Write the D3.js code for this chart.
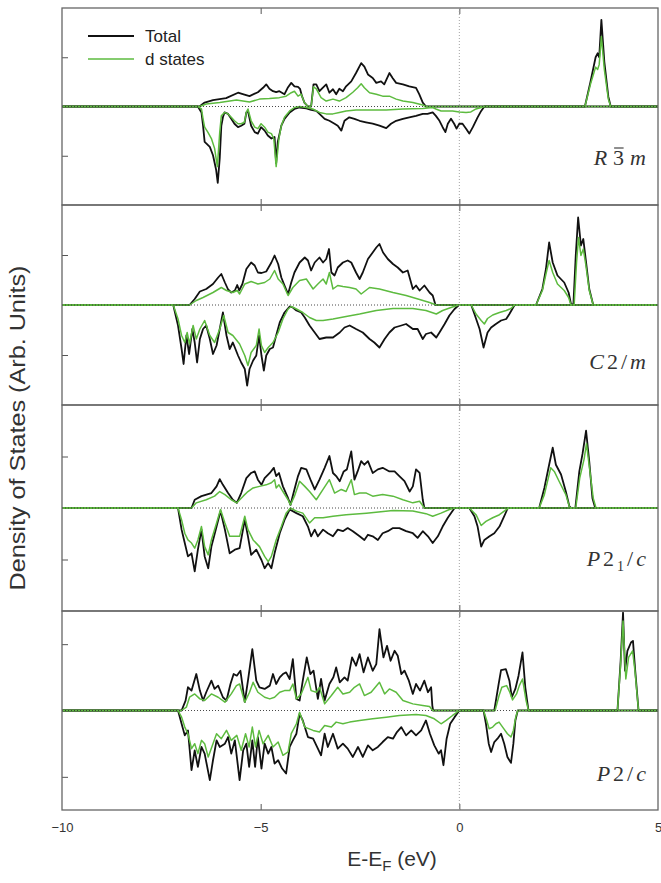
<!DOCTYPE html>
<html><head><meta charset="utf-8">
<script src="https://cdn.jsdelivr.net/npm/d3@7"></script>
<style>body{margin:0;background:#fff}</style>
</head><body><svg id="c" width="661" height="883"></svg>
<script>
// ---- data (energy eV, DOS arb. units) ----
const xDomain=[-10,5];
const xTickVals=[-10,-5,0,5];
const seriesNames=["Total","d states"];
const panelLabels=[
 [["R","i"],["3","o"],["m","i"]],
 [["C","i"],["2","n"],["/","n"],["m","i"]],
 [["P","i"],["2","n"],["1","s"],["/","n"],["c","i"]],
 [["P","i"],["2","n"],["/","n"],["c","i"]]];
const yMax=[2,2,2,3];
const yTickVals=[[-1,1],[-1,1],[-1,1],[-2,2]];

const p1TotUp=[[-6.54,0],[-6.41,0.08],[-6.20,0.13],[-5.87,0.17],[-5.57,0.28],[-5.45,0.25],[-5.28,0.21],[-5.07,0.29],[-4.94,0.38],[-4.86,0.45],[-4.78,0.36],[-4.69,0.31],[-4.61,0.29],[-4.53,0.31],[-4.40,0.25],[-4.32,0.38],[-4.23,0.48],[-4.15,0.41],[-4.06,0.40],[-4.01,0.36],[-3.96,0.21],[-3.90,0.08],[-3.81,0],[-3.73,0],[-3.67,0.45],[-3.60,0.45],[-3.52,0.31],[-3.44,0.38],[-3.35,0.45],[-3.27,0.28],[-3.18,0.35],[-3.10,0.25],[-3.02,0.36],[-2.93,0.31],[-2.85,0.41],[-2.72,0.51],[-2.60,0.68],[-2.47,0.88],[-2.39,0.81],[-2.30,0.65],[-2.18,0.58],[-2.09,0.48],[-1.97,0.51],[-1.89,0.45],[-1.76,0.68],[-1.68,0.58],[-1.59,0.48],[-1.42,0.45],[-1.26,0.41],[-1.09,0.38],[-1.01,0.25],[-0.92,0.08],[-0.84,0],[3.16,0],[3.3,0.5],[3.43,1.0],[3.48,1.08],[3.52,1.0],[3.575,1.76],[3.65,0.9],[3.75,0.2],[3.81,0]];
const p1DUp=[[-6.54,0],[-6.37,0.05],[-6.03,0.08],[-5.61,0.13],[-5.28,0.09],[-5.03,0.15],[-4.78,0.16],[-4.53,0.18],[-4.36,0.21],[-4.23,0.28],[-4.15,0.31],[-4.06,0.21],[-3.98,0.25],[-3.90,0.08],[-3.81,0],[-3.73,0],[-3.67,0.40],[-3.60,0.36],[-3.48,0.18],[-3.35,0.11],[-3.18,0.15],[-3.02,0.11],[-2.85,0.18],[-2.68,0.29],[-2.56,0.38],[-2.47,0.46],[-2.39,0.38],[-2.26,0.28],[-2.09,0.25],[-1.93,0.21],[-1.76,0.21],[-1.59,0.15],[-1.42,0.11],[-1.17,0.08],[-0.92,0.03],[-0.84,0],[3.16,0],[3.3,0.45],[3.43,0.8],[3.48,0.75],[3.52,0.85],[3.575,1.42],[3.65,0.75],[3.75,0.15],[3.81,0]];
const p1TotDn=[[-6.58,0],[-6.49,-0.12],[-6.45,-0.39],[-6.41,-0.72],[-6.37,-0.75],[-6.28,-0.82],[-6.20,-0.99],[-6.12,-1.29],[-6.08,-1.55],[-6.03,-1.05],[-5.99,-0.39],[-5.95,-0.22],[-5.91,-0.12],[-5.82,-0.15],[-5.74,-0.25],[-5.66,-0.35],[-5.57,-0.42],[-5.49,-0.39],[-5.41,-0.35],[-5.36,-0.12],[-5.32,-0.09],[-5.24,-0.39],[-5.15,-0.52],[-5.07,-0.55],[-4.99,-0.42],[-4.90,-0.49],[-4.82,-0.59],[-4.73,-0.65],[-4.65,-0.62],[-4.61,-1.15],[-4.57,-0.72],[-4.48,-0.39],[-4.40,-0.25],[-4.27,-0.12],[-4.15,-0.05],[-4.02,-0.02],[-3.85,-0.04],[-3.73,-0.07],[-3.60,-0.09],[-3.52,-0.15],[-3.39,-0.25],[-3.27,-0.29],[-3.14,-0.35],[-3.06,-0.39],[-2.97,-0.49],[-2.89,-0.29],[-2.77,-0.22],[-2.64,-0.25],[-2.51,-0.29],[-2.35,-0.32],[-2.18,-0.35],[-2.01,-0.39],[-1.84,-0.44],[-1.72,-0.35],[-1.59,-0.29],[-1.42,-0.25],[-1.26,-0.22],[-1.09,-0.19],[-0.92,-0.15],[-0.80,-0.15],[-0.67,-0.12],[-0.59,-0.19],[-0.50,-0.29],[-0.42,-0.42],[-0.35,-0.52],[-0.29,-0.35],[-0.21,-0.25],[-0.13,-0.35],[-0.07,-0.45],[0.00,-0.35],[0.08,-0.35],[0.17,-0.45],[0.25,-0.55],[0.34,-0.42],[0.46,-0.22],[0.55,-0.09],[0.63,0]];
const p1DDn=[[-6.58,0],[-6.49,-0.05],[-6.45,-0.25],[-6.41,-0.42],[-6.33,-0.52],[-6.24,-0.65],[-6.16,-0.85],[-6.09,-1.22],[-6.03,-0.52],[-5.99,-0.19],[-5.91,-0.12],[-5.82,-0.15],[-5.74,-0.22],[-5.66,-0.29],[-5.57,-0.35],[-5.49,-0.35],[-5.41,-0.32],[-5.36,-0.12],[-5.32,-0.05],[-5.24,-0.29],[-5.15,-0.42],[-5.07,-0.45],[-4.99,-0.35],[-4.90,-0.42],[-4.82,-0.52],[-4.73,-0.55],[-4.67,-0.65],[-4.61,-1.22],[-4.54,-0.65],[-4.48,-0.39],[-4.40,-0.22],[-4.27,-0.09],[-4.15,-0.02],[-4.02,0],[-3.85,-0.02],[-3.69,-0.05],[-3.52,-0.12],[-3.35,-0.15],[-3.18,-0.15],[-3.02,-0.12],[-2.85,-0.09],[-2.60,-0.07],[-1.84,-0.07],[-1.42,-0.05],[-0.92,-0.04],[-0.67,-0.02],[-0.59,-0.05],[-0.46,-0.09],[-0.17,-0.09],[0.00,-0.11],[0.17,-0.12],[0.29,-0.11],[0.42,-0.05],[0.55,-0.02],[0.63,0]];

const p2TotUp=[[-6.79,0],[-6.66,0.12],[-6.53,0.27],[-6.37,0.32],[-6.20,0.42],[-6.07,0.55],[-5.99,0.62],[-5.90,0.45],[-5.82,0.31],[-5.74,0.25],[-5.65,0.29],[-5.59,0.40],[-5.54,0.29],[-5.46,0.42],[-5.36,0.72],[-5.24,0.85],[-5.15,0.79],[-5.07,0.65],[-4.98,0.64],[-4.86,0.67],[-4.73,0.85],[-4.65,0.99],[-4.56,0.82],[-4.48,0.55],[-4.40,0.39],[-4.31,0.22],[-4.23,0.45],[-4.15,0.65],[-4.02,0.85],[-3.89,0.95],[-3.81,0.89],[-3.73,0.69],[-3.64,0.85],[-3.52,0.95],[-3.43,0.85],[-3.35,0.92],[-3.28,1.12],[-3.22,0.65],[-3.14,0.59],[-3.06,0.75],[-2.93,0.85],[-2.81,0.89],[-2.72,0.85],[-2.60,0.65],[-2.51,0.52],[-2.43,0.65],[-2.30,0.92],[-2.18,1.05],[-2.09,1.15],[-2.01,1.22],[-1.92,1.05],[-1.80,0.92],[-1.67,0.82],[-1.55,0.75],[-1.42,0.65],[-1.30,0.69],[-1.17,0.32],[-1.09,0.39],[-1.00,0.29],[-0.88,0.39],[-0.75,0.25],[-0.67,0.19],[-0.60,0],[1.93,0],[2.09,0.32],[2.18,0.72],[2.26,1.25],[2.35,0.85],[2.47,0.59],[2.64,0.45],[2.75,0.25],[2.81,0.02],[2.87,0],[2.93,0.99],[2.99,1.75],[3.06,1.19],[3.12,1.32],[3.18,0.92],[3.27,0.32],[3.37,0]];
const p2DUp=[[-6.79,0],[-6.62,0.09],[-6.45,0.15],[-6.20,0.25],[-5.99,0.35],[-5.86,0.29],[-5.70,0.25],[-5.59,0.29],[-5.53,0.22],[-5.40,0.42],[-5.24,0.47],[-5.07,0.42],[-4.90,0.45],[-4.77,0.52],[-4.65,0.69],[-4.56,0.52],[-4.44,0.42],[-4.31,0.19],[-4.19,0.35],[-4.02,0.49],[-3.85,0.52],[-3.68,0.32],[-3.56,0.42],[-3.43,0.52],[-3.35,0.42],[-3.27,0.65],[-3.18,0.32],[-3.06,0.39],[-2.93,0.37],[-2.76,0.35],[-2.60,0.32],[-2.47,0.22],[-2.26,0.35],[-2.01,0.32],[-1.67,0.25],[-1.34,0.19],[-1.00,0.11],[-0.75,0.05],[-0.58,0],[1.93,0],[2.09,0.29],[2.18,0.62],[2.26,0.89],[2.35,0.65],[2.47,0.42],[2.64,0.29],[2.75,0.15],[2.81,0],[2.89,0],[2.95,0.85],[3.00,1.35],[3.06,0.99],[3.12,1.12],[3.18,0.82],[3.27,0.29],[3.37,0]];
const p2TotDn=[[-7.20,0],[-7.08,-0.41],[-6.99,-0.88],[-6.94,-1.18],[-6.87,-0.61],[-6.80,-0.98],[-6.72,-0.48],[-6.66,-0.75],[-6.60,-1.15],[-6.53,-0.68],[-6.45,-0.48],[-6.37,-0.41],[-6.28,-0.68],[-6.20,-0.98],[-6.11,-0.81],[-6.03,-0.48],[-5.95,-0.15],[-5.86,-0.61],[-5.78,-0.88],[-5.70,-0.75],[-5.57,-1.01],[-5.49,-1.15],[-5.40,-1.28],[-5.34,-1.61],[-5.28,-1.28],[-5.19,-1.11],[-5.11,-1.01],[-5.04,-0.61],[-4.98,-1.01],[-4.92,-1.31],[-4.86,-1.01],[-4.77,-0.88],[-4.69,-0.85],[-4.61,-0.61],[-4.52,-0.35],[-4.40,-0.15],[-4.27,-0.03],[-4.19,-0.05],[-4.10,-0.11],[-3.98,-0.15],[-3.89,-0.25],[-3.77,-0.41],[-3.64,-0.55],[-3.52,-0.68],[-3.35,-0.65],[-3.18,-0.65],[-3.01,-0.55],[-2.89,-0.45],[-2.76,-0.41],[-2.60,-0.48],[-2.43,-0.55],[-2.26,-0.68],[-2.14,-0.75],[-2.01,-0.85],[-1.88,-0.68],[-1.76,-0.55],[-1.63,-0.45],[-1.46,-0.41],[-1.34,-0.38],[-1.17,-0.48],[-1.05,-0.48],[-0.92,-0.68],[-0.84,-0.58],[-0.71,-0.55],[-0.58,-0.65],[-0.50,-0.55],[-0.37,-0.38],[-0.25,-0.21],[-0.12,-0.08],[-0.01,0],[0.30,0],[0.38,-0.18],[0.51,-0.48],[0.61,-0.85],[0.71,-0.55],[0.80,-0.45],[0.92,-0.38],[1.05,-0.31],[1.18,-0.28],[1.26,-0.18],[1.39,0]];
const p2DDn=[[-7.20,0],[-7.08,-0.28],[-6.99,-0.61],[-6.91,-0.75],[-6.85,-0.55],[-6.79,-0.78],[-6.70,-0.41],[-6.62,-0.68],[-6.53,-0.48],[-6.41,-0.31],[-6.28,-0.61],[-6.16,-0.75],[-6.03,-0.48],[-5.93,-0.21],[-5.82,-0.55],[-5.70,-0.61],[-5.53,-0.78],[-5.40,-1.01],[-5.32,-1.21],[-5.24,-0.95],[-5.11,-0.81],[-5.04,-0.48],[-4.98,-0.81],[-4.90,-0.95],[-4.81,-0.85],[-4.69,-0.75],[-4.56,-0.55],[-4.44,-0.28],[-4.31,-0.08],[-4.23,-0.03],[-4.10,-0.08],[-3.94,-0.15],[-3.77,-0.25],[-3.60,-0.31],[-3.43,-0.31],[-3.18,-0.28],[-2.85,-0.23],[-2.51,-0.18],[-2.09,-0.11],[-1.67,-0.07],[-1.17,-0.07],[-0.84,-0.11],[-0.58,-0.18],[-0.42,-0.11],[-0.21,-0.05],[-0.01,0],[0.30,0],[0.42,-0.18],[0.55,-0.31],[0.63,-0.38],[0.71,-0.27],[0.84,-0.20],[1.01,-0.15],[1.18,-0.11],[1.30,-0.07],[1.39,0]];

const p3TotUp=[[-6.74,0],[-6.66,0.16],[-6.49,0.23],[-6.24,0.29],[-6.11,0.42],[-6.03,0.56],[-5.95,0.45],[-5.82,0.29],[-5.70,0.16],[-5.60,0.10],[-5.49,0.29],[-5.36,0.58],[-5.24,0.68],[-5.15,0.71],[-5.07,0.55],[-4.98,0.45],[-4.90,0.58],[-4.77,0.68],[-4.67,0.78],[-4.61,0.62],[-4.54,0.68],[-4.44,0.42],[-4.31,0.19],[-4.25,0.06],[-4.15,0.36],[-4.06,0.62],[-3.98,0.78],[-3.85,0.75],[-3.73,0.52],[-3.64,0.36],[-3.52,0.55],[-3.39,0.78],[-3.27,1.01],[-3.18,0.68],[-3.10,0.62],[-3.01,0.52],[-2.91,0.71],[-2.83,0.75],[-2.72,1.10],[-2.64,0.55],[-2.56,0.71],[-2.47,0.91],[-2.39,0.84],[-2.30,0.91],[-2.18,0.68],[-2.05,0.75],[-1.93,0.78],[-1.76,0.71],[-1.63,0.71],[-1.51,0.62],[-1.38,0.52],[-1.25,0.32],[-1.17,0.42],[-1.09,0.75],[-1.00,0.68],[-0.92,0.16],[-0.88,0],[2.01,0],[2.14,0.39],[2.26,0.84],[2.35,1.17],[2.43,0.84],[2.56,0.65],[2.68,0.32],[2.77,0.03],[2.81,0],[2.92,0],[3.02,0.71],[3.10,1.05],[3.19,1.50],[3.27,0.90],[3.35,0.19],[3.42,0]];
const p3DUp=[[-6.74,0],[-6.62,0.10],[-6.37,0.16],[-6.16,0.23],[-6.03,0.32],[-5.90,0.26],[-5.74,0.16],[-5.60,0.10],[-5.44,0.23],[-5.32,0.32],[-5.19,0.39],[-5.03,0.42],[-4.86,0.45],[-4.73,0.49],[-4.65,0.55],[-4.61,0.39],[-4.54,0.45],[-4.44,0.32],[-4.31,0.16],[-4.25,0.06],[-4.15,0.23],[-4.02,0.52],[-3.89,0.42],[-3.77,0.32],[-3.60,0.16],[-3.43,0.36],[-3.27,0.55],[-3.14,0.29],[-2.97,0.36],[-2.85,0.32],[-2.72,0.55],[-2.64,0.26],[-2.51,0.29],[-2.34,0.29],[-2.18,0.23],[-1.93,0.26],[-1.67,0.23],[-1.42,0.16],[-1.17,0.10],[-1.00,0.13],[-0.88,0],[2.01,0],[2.14,0.26],[2.30,0.78],[2.39,0.71],[2.51,0.52],[2.68,0.26],[2.78,0],[2.93,0],[3.03,0.58],[3.14,0.95],[3.20,1.25],[3.28,0.75],[3.37,0.19],[3.44,0]];
const p3TotDn=[[-7.08,0],[-6.99,-0.42],[-6.91,-0.68],[-6.83,-0.94],[-6.74,-0.88],[-6.66,-1.23],[-6.58,-0.81],[-6.49,-0.42],[-6.41,-0.94],[-6.32,-1.17],[-6.24,-0.75],[-6.11,-0.36],[-6.01,-0.06],[-5.90,-0.42],[-5.78,-0.88],[-5.65,-0.81],[-5.53,-0.78],[-5.40,-0.23],[-5.32,-0.55],[-5.24,-0.91],[-5.11,-0.81],[-4.98,-1.01],[-4.90,-1.17],[-4.81,-1.07],[-4.73,-1.17],[-4.65,-0.88],[-4.52,-0.49],[-4.40,-0.23],[-4.27,-0.03],[-4.10,-0.10],[-3.94,-0.16],[-3.81,-0.36],[-3.73,-0.55],[-3.64,-0.42],[-3.56,-0.55],[-3.43,-0.42],[-3.31,-0.49],[-3.18,-0.55],[-3.06,-0.42],[-2.93,-0.45],[-2.81,-0.39],[-2.68,-0.45],[-2.51,-0.55],[-2.39,-0.62],[-2.30,-0.52],[-2.18,-0.55],[-2.05,-0.62],[-1.93,-0.49],[-1.80,-0.45],[-1.67,-0.39],[-1.51,-0.39],[-1.34,-0.45],[-1.17,-0.49],[-1.05,-0.58],[-0.92,-0.45],[-0.79,-0.55],[-0.67,-0.68],[-0.54,-0.55],[-0.42,-0.36],[-0.29,-0.19],[-0.12,0],[0.25,0],[0.38,-0.16],[0.46,-0.36],[0.55,-0.75],[0.63,-0.62],[0.76,-0.55],[0.88,-0.49],[1.01,-0.36],[1.13,-0.16],[1.22,0]];
const p3DDn=[[-7.08,0],[-6.99,-0.23],[-6.91,-0.49],[-6.83,-0.62],[-6.74,-0.68],[-6.66,-0.78],[-6.58,-0.62],[-6.49,-0.36],[-6.41,-0.75],[-6.32,-0.91],[-6.24,-0.62],[-6.11,-0.29],[-6.01,-0.03],[-5.90,-0.29],[-5.78,-0.55],[-5.65,-0.55],[-5.53,-0.55],[-5.40,-0.16],[-5.32,-0.42],[-5.19,-0.62],[-5.03,-0.75],[-4.90,-0.94],[-4.81,-1.04],[-4.73,-0.94],[-4.61,-0.62],[-4.48,-0.36],[-4.36,-0.10],[-4.25,0],[-4.10,-0.06],[-3.94,-0.10],[-3.77,-0.29],[-3.64,-0.19],[-3.43,-0.19],[-3.18,-0.16],[-2.85,-0.13],[-2.34,-0.10],[-1.67,-0.05],[-1.17,-0.06],[-0.84,-0.11],[-0.67,-0.16],[-0.46,-0.10],[-0.25,-0.03],[-0.12,0],[0.25,0],[0.42,-0.13],[0.55,-0.34],[0.67,-0.26],[0.84,-0.19],[1.01,-0.13],[1.18,-0.03],[1.24,0]];

const p4TotUp=[[-6.99,0],[-6.89,0.30],[-6.83,0.70],[-6.74,0.60],[-6.62,1.10],[-6.53,0.60],[-6.45,0.30],[-6.37,0.55],[-6.24,0.90],[-6.16,0.65],[-6.07,0.75],[-5.95,0.40],[-5.86,0.30],[-5.76,0.80],[-5.68,1.10],[-5.60,1.05],[-5.51,1.20],[-5.40,0.25],[-5.32,0.90],[-5.21,1.85],[-5.11,0.90],[-5.03,0.70],[-4.90,0.65],[-4.77,0.75],[-4.69,1.10],[-4.61,0.80],[-4.52,1.00],[-4.44,1.10],[-4.36,1.15],[-4.27,0.95],[-4.19,1.55],[-4.10,0.35],[-4.02,0.30],[-3.94,0.90],[-3.84,1.60],[-3.75,1.10],[-3.67,1.20],[-3.56,0.35],[-3.48,0.95],[-3.39,0.30],[-3.27,0.80],[-3.17,1.00],[-3.10,1.30],[-3.01,0.85],[-2.89,1.00],[-2.81,0.90],[-2.70,1.60],[-2.60,1.35],[-2.51,1.70],[-2.41,1.15],[-2.30,1.60],[-2.18,1.20],[-2.09,1.40],[-2.01,2.45],[-1.91,1.60],[-1.82,1.95],[-1.73,1.50],[-1.63,1.80],[-1.55,1.65],[-1.46,1.10],[-1.38,1.20],[-1.27,0.90],[-1.17,0.50],[-1.09,0.80],[-0.99,0.60],[-0.88,0.90],[-0.79,0.55],[-0.71,0.70],[-0.68,0.15],[-0.66,0],[0.88,0],[0.99,0.80],[1.05,1.22],[1.17,1.25],[1.26,0.90],[1.32,0.40],[1.41,0.65],[1.49,1.05],[1.59,1.75],[1.66,0.70],[1.74,0],[3.98,0],[4.06,1.50],[4.12,2.95],[4.17,1.20],[4.23,1.80],[4.32,2.05],[4.37,2.10],[4.42,1.30],[4.51,0]];
const p4DUp=[[-6.99,0],[-6.87,0.10],[-6.79,0.40],[-6.66,0.50],[-6.53,0.35],[-6.41,0.30],[-6.24,0.50],[-6.07,0.40],[-5.90,0.25],[-5.74,0.50],[-5.61,0.75],[-5.53,0.80],[-5.40,0.25],[-5.28,0.55],[-5.19,0.85],[-5.07,0.55],[-4.90,0.40],[-4.77,0.35],[-4.65,0.40],[-4.52,0.55],[-4.40,0.60],[-4.27,0.60],[-4.19,0.80],[-4.10,0.35],[-3.98,0.50],[-3.81,1.00],[-3.73,0.60],[-3.60,0.55],[-3.52,0.70],[-3.39,0.20],[-3.22,0.45],[-3.06,0.70],[-2.93,0.50],[-2.76,0.55],[-2.64,0.70],[-2.51,0.80],[-2.39,0.45],[-2.22,0.55],[-2.01,0.85],[-1.88,0.50],[-1.76,0.65],[-1.59,0.55],[-1.42,0.30],[-1.17,0.20],[-0.92,0.15],[-0.75,0.12],[-0.67,0],[0.90,0],[1.00,0.45],[1.07,0.70],[1.19,0.75],[1.27,0.55],[1.34,0.32],[1.44,0.50],[1.51,0.75],[1.59,0.95],[1.68,0.30],[1.74,0],[3.98,0],[4.06,1.40],[4.12,2.70],[4.19,0.95],[4.26,1.60],[4.36,1.80],[4.42,1.20],[4.51,0]];
const p4TotDn=[[-7.08,0],[-6.99,-0.40],[-6.91,-0.75],[-6.83,-0.60],[-6.74,-1.80],[-6.66,-1.20],[-6.58,-1.70],[-6.49,-1.10],[-6.41,-1.30],[-6.28,-2.10],[-6.20,-1.50],[-6.11,-0.90],[-6.03,-1.10],[-5.90,-1.00],[-5.82,-0.80],[-5.74,-1.30],[-5.65,-0.90],[-5.60,-1.40],[-5.53,-2.10],[-5.44,-1.20],[-5.36,-1.00],[-5.29,-1.70],[-5.21,-0.90],[-5.14,-1.70],[-5.07,-0.80],[-4.98,-1.75],[-4.90,-1.00],[-4.81,-1.30],[-4.73,-1.10],[-4.65,-1.60],[-4.56,-1.50],[-4.46,-1.75],[-4.36,-1.90],[-4.27,-1.10],[-4.19,-0.90],[-4.10,-0.70],[-4.02,-0.10],[-3.94,-0.30],[-3.81,-0.80],[-3.68,-0.85],[-3.56,-1.15],[-3.48,-1.35],[-3.39,-0.70],[-3.31,-1.10],[-3.18,-0.70],[-3.06,-1.15],[-2.93,-1.00],[-2.81,-1.15],[-2.68,-1.40],[-2.55,-1.10],[-2.43,-1.40],[-2.30,-1.05],[-2.18,-1.20],[-2.05,-1.10],[-1.93,-0.95],[-1.80,-0.80],[-1.67,-0.85],[-1.57,-0.65],[-1.46,-0.50],[-1.34,-0.75],[-1.21,-0.60],[-1.09,-0.75],[-0.96,-0.60],[-0.84,-0.30],[-0.74,-0.70],[-0.63,-1.05],[-0.52,-1.30],[-0.46,-1.20],[-0.40,-1.65],[-0.32,-0.85],[-0.23,-0.40],[-0.12,-0.20],[0.00,0],[0.61,0],[0.67,-0.40],[0.74,-1.00],[0.80,-1.25],[0.88,-0.95],[0.96,-0.85],[1.05,-0.70],[1.13,-1.00],[1.21,-1.40],[1.30,-1.58],[1.36,-1.00],[1.41,-0.30],[1.47,0]];
const p4DDn=[[-7.08,0],[-6.99,-0.20],[-6.91,-0.50],[-6.83,-0.70],[-6.74,-1.15],[-6.66,-1.00],[-6.58,-1.30],[-6.49,-0.90],[-6.41,-1.00],[-6.32,-1.40],[-6.20,-1.00],[-6.11,-0.70],[-5.99,-0.85],[-5.86,-0.60],[-5.74,-0.90],[-5.60,-0.75],[-5.49,-1.20],[-5.38,-0.70],[-5.29,-1.10],[-5.21,-0.50],[-5.13,-1.10],[-5.04,-0.60],[-4.94,-1.00],[-4.81,-0.75],[-4.69,-1.10],[-4.56,-0.95],[-4.44,-1.35],[-4.31,-1.25],[-4.23,-0.70],[-4.10,-0.40],[-4.02,-0.05],[-3.89,-0.50],[-3.68,-0.60],[-3.52,-0.65],[-3.39,-0.45],[-3.22,-0.50],[-3.10,-0.35],[-2.93,-0.40],[-2.76,-0.35],[-2.51,-0.30],[-2.18,-0.25],[-1.84,-0.20],[-1.51,-0.15],[-1.09,-0.12],[-0.84,-0.15],[-0.63,-0.25],[-0.46,-0.40],[-0.33,-0.30],[-0.17,-0.15],[0.00,0],[0.61,0],[0.69,-0.30],[0.75,-0.55],[0.84,-0.50],[0.92,-0.40],[1.00,-0.35],[1.09,-0.50],[1.21,-0.70],[1.30,-0.80],[1.36,-0.60],[1.42,-0.20],[1.47,0]];

// ---- layout ----
const L=62,R=658;
const bands=[[8,205],[205,405],[405,611],[611,810]];
const totals=[[p1TotUp,p1TotDn],[p2TotUp,p2TotDn],[p3TotUp,p3TotDn],[p4TotUp,p4TotDn]];
const dstates=[[p1DUp,p1DDn],[p2DUp,p2DDn],[p3DUp,p3DDn],[p4DUp,p4DDn]];
const labelBase=[165,369,566,781];
const labelSpacing=[6,3,3,3];
const BLACK="#111", GREEN="#5dbb3f";

const svg=d3.select("#c");
const x=d3.scaleLinear().domain(xDomain).range([L,R]);
const pad=a=>[[xDomain[0],0],...a,[xDomain[1],0]];

bands.forEach((b,i)=>{
  const y=d3.scaleLinear().domain([-yMax[i],yMax[i]]).range([b[1],b[0]]);
  const g=svg.append("g");
  const cid="clip"+i;
  svg.append("clipPath").attr("id",cid).append("rect").attr("x",L).attr("y",b[0]).attr("width",R-L).attr("height",b[1]-b[0]);
  const line=d3.line().x(d=>x(d[0])).y(d=>y(d[1]));
  const cg=g.append("g").attr("clip-path",`url(#${cid})`);
  totals[i].forEach(s=>cg.append("path").attr("d",line(pad(s))).attr("fill","none").attr("stroke",BLACK).attr("stroke-width",1.8).attr("stroke-linejoin","round"));
  dstates[i].forEach(s=>cg.append("path").attr("d",line(pad(s))).attr("fill","none").attr("stroke",GREEN).attr("stroke-width",1.5).attr("stroke-linejoin","round"));
  cg.append("line").attr("x1",L).attr("x2",R).attr("y1",y(0)).attr("y2",y(0)).attr("stroke","#333").attr("stroke-width",0.9).attr("stroke-dasharray","1,2");
  const ya=d3.axisLeft(y).tickValues(yTickVals[i]).tickSize(-6).tickFormat("");
  g.append("g").attr("transform",`translate(${L},0)`).call(ya).call(a=>a.select(".domain").remove()).selectAll("line").attr("stroke","#555");
  const xb=d3.axisBottom(x).tickValues([-5,0]).tickSize(-6).tickFormat("");
  g.append("g").attr("transform",`translate(0,${b[1]})`).call(xb).call(a=>a.select(".domain").remove()).selectAll("line").attr("stroke","#555");
  const xt=d3.axisTop(x).tickValues([-5,0]).tickSize(-6).tickFormat("");
  g.append("g").attr("transform",`translate(0,${b[0]})`).call(xt).call(a=>a.select(".domain").remove()).selectAll("line").attr("stroke","#555");
  g.append("rect").attr("x",L).attr("y",b[0]).attr("width",R-L).attr("height",b[1]-b[0]).attr("fill","none").attr("stroke","#666").attr("stroke-width",1.3);
  // panel label
  const t=g.append("text").attr("x",646+labelSpacing[i]).attr("y",labelBase[i]).attr("text-anchor","end")
    .attr("font-family","'Liberation Serif','Times New Roman',serif").attr("font-size",22).attr("fill","#333").attr("letter-spacing",labelSpacing[i]);
  let sub=false, over=-1, idx=0;
  panelLabels[i].forEach(([c,s])=>{
    const sp=t.append("tspan").text(c);
    if(s==="i") sp.attr("font-style","italic");
    if(s==="s"){ sp.attr("font-size",14).attr("dy",5); sub=true; }
    else if(sub){ sp.attr("dy",-5); sub=false; }
    if(s==="o") over=idx;
    idx+=c.length;
  });
  if(over>=0){
    const e=t.node().getExtentOfChar(over);
    g.append("line").attr("x1",e.x+1).attr("x2",e.x+e.width-labelSpacing[i]-0.5).attr("y1",e.y+3).attr("y2",e.y+3).attr("stroke","#333").attr("stroke-width",1.1);
  }
});

svg.append("line").attr("x1",x(0)).attr("x2",x(0)).attr("y1",bands[0][0]).attr("y2",bands[3][1]).attr("stroke","#999").attr("stroke-width",0.9).attr("stroke-dasharray","1,2");

const xa=d3.axisBottom(x).tickValues(xTickVals).tickSize(0).tickPadding(13).tickFormat(d3.format("d"));
svg.append("g").attr("transform",`translate(0,${bands[3][1]})`).call(xa).call(a=>a.select(".domain").remove())
  .selectAll("text").attr("font-family","'Liberation Sans',Arial,sans-serif").attr("font-size",13).attr("fill","#333");

const xl=svg.append("text").attr("x",392).attr("y",866).attr("text-anchor","middle").attr("font-family","'Liberation Sans',Arial,sans-serif").attr("font-size",21).attr("fill","#333");
xl.append("tspan").text("E-E");
xl.append("tspan").text("F").attr("font-size",15).attr("dy",5);
xl.append("tspan").text(" (eV)").attr("dy",-5);
svg.append("text").attr("transform","translate(25,428) rotate(-90)").attr("text-anchor","middle")
  .attr("font-family","'Liberation Sans',Arial,sans-serif").attr("font-size",22).attr("fill","#333")
  .attr("textLength",325).attr("lengthAdjust","spacingAndGlyphs").text("Density of States (Arb. Units)");

const leg=[[BLACK,36],[GREEN,59]];
seriesNames.forEach((n,k)=>{
  svg.append("line").attr("x1",88).attr("x2",134).attr("y1",leg[k][1]).attr("y2",leg[k][1]).attr("stroke",leg[k][0]).attr("stroke-width",k?1.6:1.8);
  svg.append("text").attr("x",145).attr("y",leg[k][1]+6).attr("font-family","'Liberation Sans',Arial,sans-serif").attr("font-size",17).attr("fill","#222").text(n);
});
</script></body></html>
